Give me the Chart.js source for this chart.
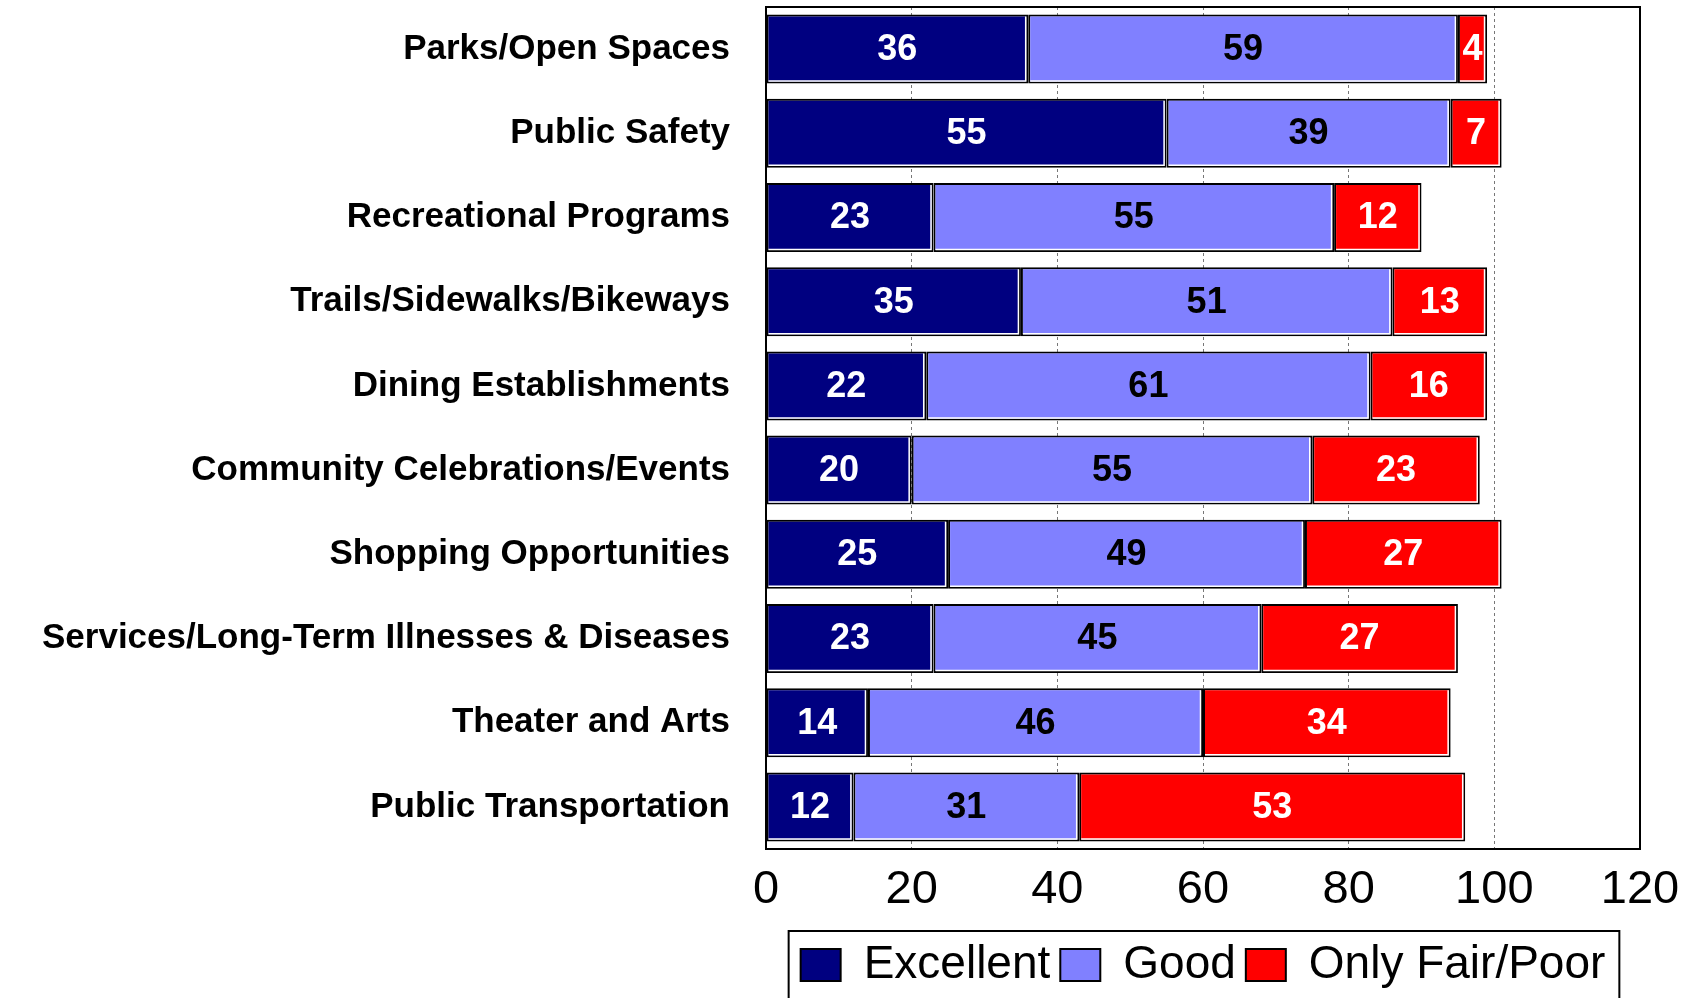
<!DOCTYPE html>
<html>
<head>
<meta charset="utf-8">
<script src="https://cdn.jsdelivr.net/npm/chart.js@4.4.1/dist/chart.umd.min.js"></script>
<style>
  html, body { margin: 0; padding: 0; background: #fff; }
  #wrap { width: 1698px; height: 998px; }
</style>
</head>
<body>
<div id="wrap"><canvas id="ratingsChart"></canvas></div>
<script>
const categories = [
    'Parks/Open Spaces',
    'Public Safety',
    'Recreational Programs',
    'Trails/Sidewalks/Bikeways',
    'Dining Establishments',
    'Community Celebrations/Events',
    'Shopping Opportunities',
    'Services/Long-Term Illnesses & Diseases',
    'Theater and Arts',
    'Public Transportation'
];
const excellent = [36, 55, 23, 35, 22, 20, 25, 23, 14, 12];
const good      = [59, 39, 55, 51, 61, 55, 49, 45, 46, 31];
const fairPoor  = [4, 7, 12, 13, 16, 23, 27, 27, 34, 53];
const xTicks    = [0, 20, 40, 60, 80, 100, 120];

const FONT = "'Liberation Sans', Arial, sans-serif";

// values in the middle of each segment, plus the thin white inner edge
const barLabels = {
    id: 'barLabels',
    afterDatasetsDraw(chart) {
        const ctx = chart.ctx;
        ctx.save();
        chart.data.datasets.forEach((ds, i) => {
            chart.getDatasetMeta(i).data.forEach((bar) => {
                const h = bar.height / 2;
                ctx.strokeStyle = '#fff';
                ctx.lineWidth = 1.5;
                ctx.beginPath();
                ctx.moveTo(bar.base + 2, bar.y + h - 2.5);
                ctx.lineTo(bar.x - 2.5, bar.y + h - 2.5);
                ctx.lineTo(bar.x - 2.5, bar.y - h + 2);
                ctx.stroke();
            });
        });
        ctx.font = 'bold 36px ' + FONT;
        ctx.textAlign = 'center';
        ctx.textBaseline = 'middle';
        chart.data.datasets.forEach((ds, i) => {
            chart.getDatasetMeta(i).data.forEach((bar, j) => {
                ctx.fillStyle = ds.labelColor;
                ctx.fillText(ds.data[j], (bar.x + bar.base) / 2, bar.y + 1);
            });
        });
        ctx.restore();
    }
};

// frame round the plot area and round the legend
const frames = {
    id: 'frames',
    afterDraw(chart) {
        const ctx = chart.ctx;
        const a = chart.chartArea;
        ctx.save();
        ctx.strokeStyle = '#000';
        ctx.lineWidth = 2;
        ctx.strokeRect(a.left, a.top, a.right - a.left, a.bottom - a.top);
        const boxes = chart.legend.legendHitBoxes;
        if (boxes && boxes.length) {
            const l = Math.min(...boxes.map(b => b.left)) - 12;
            const r = Math.max(...boxes.map(b => b.left + b.width)) + 14;
            const t = chart.legend.top - 1;
            ctx.strokeRect(l, t, r - l, 200);
        }
        ctx.restore();
    }
};

const ctx = document.getElementById('ratingsChart').getContext('2d');
const ratingsChart = new Chart(ctx, {
    type: 'bar',
    data: {
        labels: categories,
        datasets: [{
            label: 'Excellent',
            data: excellent,
            backgroundColor: '#000080',
            labelColor: '#fff'
        }, {
            label: 'Good',
            data: good,
            backgroundColor: '#8080ff',
            labelColor: '#000'
        }, {
            label: 'Only Fair/Poor',
            data: fairPoor,
            backgroundColor: '#ff0000',
            labelColor: '#fff'
        }]
    },
    options: {
        indexAxis: 'y',
        responsive: true,
        maintainAspectRatio: false,
        animation: false,
        datasets: {
            bar: {
                borderColor: '#000',
                borderWidth: 2,
                borderSkipped: false,
                barPercentage: 0.82,
                categoryPercentage: 1
            }
        },
        layout: {
            padding: { top: 7, right: 58, bottom: 0, left: 0 }
        },
        plugins: {
            legend: {
                display: true,
                position: 'bottom',
                fullSize: false,
                labels: {
                    color: '#000',
                    font: { family: FONT, size: 46 },
                    boxWidth: 40,
                    boxHeight: 32,
                    padding: 10
                }
            },
            tooltip: { enabled: false }
        },
        scales: {
            x: {
                stacked: true,
                min: 0,
                max: 120,
                afterBuildTicks(scale) {
                    scale.ticks = xTicks.map(v => ({ value: v }));
                },
                afterFit(scale) { scale.height = 83; },
                grid: {
                    drawTicks: false,
                    color: '#777',
                    lineWidth: 1
                },
                border: { display: true, color: '#000', width: 2, dash: [3, 3] },
                ticks: {
                    color: '#000',
                    padding: 13,
                    font: { family: FONT, size: 47 }
                }
            },
            y: {
                stacked: true,
                afterFit(scale) {
                    scale.width = 766;
                    scale.paddingTop = 0;
                    scale.paddingBottom = 0;
                },
                grid: { display: false, drawTicks: false },
                border: { display: true, color: '#000', width: 2 },
                ticks: {
                    color: '#000',
                    padding: 36,
                    font: { family: FONT, size: 35, weight: 'bold' }
                }
            }
        }
    },
    plugins: [barLabels, frames]
});
</script>
</body>
</html>
